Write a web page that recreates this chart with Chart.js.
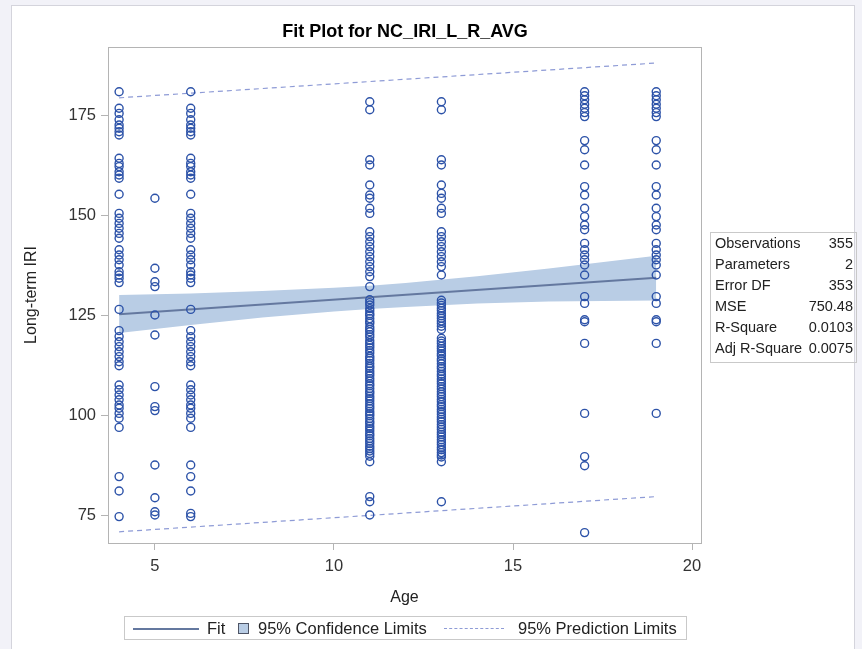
<!DOCTYPE html>
<html>
<head>
<meta charset="utf-8">
<script src="https://cdn.jsdelivr.net/npm/chart.js@4.4.1/dist/chart.umd.min.js"></script>
<style>
  html, body { margin: 0; padding: 0; background: #f2f2f8; }
  #page { position: relative; width: 862px; height: 649px; overflow: hidden;
          font-family: "Liberation Sans", Arial, sans-serif; color: #222; }
  #panel { position: absolute; left: 11px; top: 5px; width: 844px; height: 660px;
           background: #fff; border: 1px solid #d4d4dc; box-sizing: border-box; }
  #chart { position: absolute; left: 0; top: 0; }
  #title { position: absolute; left: 205px; width: 400px; top: 20px; text-align: center;
           font-weight: bold; font-size: 18px; line-height: 22px; color: #000; white-space: nowrap; }
  #stats { position: absolute; left: 710px; top: 232px; width: 147px; height: 131px;
           border: 1px solid #c9c9c9; box-sizing: border-box; font-size: 14.5px; color: #222; }
  #stats .row { position: absolute; left: 4px; right: 3px; height: 20px; line-height: 20px; white-space: nowrap; }
  #stats .v { position: absolute; right: 0; top: 0; }
  #legend { position: absolute; left: 124px; top: 616px; width: 563px; height: 24px;
            border: 1px solid #c9c9c9; box-sizing: border-box; font-size: 16.5px; color: #222; }
  #legend .item { position: absolute; top: 2px; line-height: 19px; white-space: nowrap; }
  #legend .fitline { position: absolute; left: 8px; top: 11px; width: 66px; height: 0;
                     border-top: 2px solid #64789f; }
  #legend .box { position: absolute; left: 113px; top: 6px; width: 11px; height: 11px;
                 background: #b9cde5; border: 1px solid #4e5566; box-sizing: border-box; }
  #legend .dash { position: absolute; left: 319px; top: 11px; width: 60px; height: 0;
                  border-top: 1px dashed #8e9bd6; }
</style>
</head>
<body>
<div id="page">
  <div id="panel"></div>
  <canvas id="chart" width="862" height="649"></canvas>
  <div id="title">Fit Plot for NC_IRI_L_R_AVG</div>

  <div id="stats">
    <div class="row" style="top:0px">Observations<span class="v">355</span></div>
    <div class="row" style="top:21px">Parameters<span class="v">2</span></div>
    <div class="row" style="top:42px">Error DF<span class="v">353</span></div>
    <div class="row" style="top:63px">MSE<span class="v">750.48</span></div>
    <div class="row" style="top:84px">R-Square<span class="v">0.0103</span></div>
    <div class="row" style="top:105px">Adj R-Square<span class="v">0.0075</span></div>
  </div>

  <div id="legend">
    <div class="fitline"></div>
    <div class="item" style="left:82px">Fit</div>
    <div class="box"></div>
    <div class="item" style="left:133px">95% Confidence Limits</div>
    <div class="dash"></div>
    <div class="item" style="left:393px">95% Prediction Limits</div>
  </div>
</div>

<script>
// Long-term IRI observations, grouped by pavement age (years)
const ages = [4, 5, 6, 11, 13, 17, 19];

const iriAge4 = [180.8, 176.7, 175.4, 173.8, 172.5, 171.7, 170.8, 170.0,
  164.2, 162.9, 162.1, 160.8, 160.0, 159.2, 155.2,
  150.4, 149.2, 147.9, 146.7, 145.4, 144.2,
  141.3, 140.0, 138.8, 137.5, 135.8, 135.0, 134.2, 133.1,
  126.4, 121.1, 119.6, 118.3, 117.1, 115.8, 114.6, 113.3, 112.3,
  107.5, 106.3, 105.0, 103.8, 102.5, 101.7, 100.4, 99.2, 96.9,
  84.6, 81.0, 74.6];

const iriAge5 = [154.2, 136.7, 133.3, 132.1, 125.0, 120.0, 107.1, 102.1, 101.1,
  87.5, 79.3, 75.8, 75.0];

const iriAge6 = [180.8, 176.7, 175.4, 173.8, 172.5, 171.7, 170.8, 170.0,
  164.2, 162.9, 162.1, 160.8, 160.0, 159.2, 155.2,
  150.4, 149.2, 147.9, 146.7, 145.4, 144.2,
  141.3, 140.0, 138.8, 137.5, 135.8, 135.0, 134.2, 133.1,
  126.4, 121.1, 119.6, 118.3, 117.1, 115.8, 114.6, 113.3, 112.3,
  107.5, 106.3, 105.0, 103.8, 102.5, 101.7, 100.4, 99.2, 96.9,
  87.5, 84.6, 81.0, 75.4, 74.6];

const iriAge11 = [178.3, 176.3, 163.8, 162.5, 157.5, 155.0, 154.2, 151.7, 150.4,
  145.8, 144.6, 143.3, 142.1, 140.8, 139.6, 138.3, 137.1, 135.8, 134.6, 132.1,
  128.8, 128.1, 127.5, 126.6, 126.0, 125.3, 124.9, 124.1, 123.4, 122.9, 122.0,
  121.4, 120.8, 120.1, 119.5, 118.6, 118.0, 117.4, 116.8, 116.1, 115.5, 114.7,
  114.2, 113.6, 112.9, 112.2, 111.7, 111.0, 110.4, 109.8, 109.1, 108.5, 107.8,
  107.3, 106.6, 105.9, 105.4, 104.7, 104.1, 103.5, 102.8, 102.2, 101.6, 100.9,
  100.3, 99.8, 99.1, 98.4, 97.9, 97.2, 96.6, 96.0, 95.3, 94.8, 94.1, 93.5,
  92.9, 92.2, 91.6, 91.0, 90.4, 89.7, 88.3, 79.6, 78.3, 75.0];

const iriAge13 = [178.3, 176.3, 163.8, 162.5, 157.5, 155.4, 154.2, 151.7, 150.4,
  145.8, 144.6, 143.3, 142.1, 140.8, 139.6, 138.3, 137.1, 135.0,
  128.7, 128.0, 127.4, 126.7, 126.1, 125.4, 124.8, 124.2, 123.5, 122.9, 122.2, 121.4,
  119.2, 118.5, 117.9, 117.2, 116.6, 116.0, 115.3, 114.8, 114.0, 113.5, 112.8,
  112.1, 111.6, 110.9, 110.2, 109.7, 109.0, 108.4, 107.8, 107.1, 106.5, 105.8,
  105.2, 104.6, 103.9, 103.3, 102.6, 102.1, 101.4, 100.8, 100.2, 99.5, 98.9,
  98.3, 97.6, 97.0, 96.4, 95.7, 95.1, 94.5, 93.8, 93.2, 92.6, 91.9, 91.3,
  90.6, 90.0, 89.5, 88.3, 78.3];

const iriAge17 = [180.8, 179.8, 178.8, 177.7, 176.7, 175.6, 174.6, 168.6, 166.3,
  162.5, 157.1, 155.0, 151.7, 149.6, 147.5, 146.3,
  142.9, 141.3, 140.0, 138.8, 137.5, 135.0, 129.6, 127.9, 123.8, 123.3,
  117.9, 100.4, 89.6, 87.3, 70.6];

const iriAge19 = [180.8, 179.8, 178.8, 177.7, 176.7, 175.6, 174.6, 168.6, 166.3,
  162.5, 157.1, 155.0, 151.7, 149.6, 147.5, 146.3,
  142.9, 141.3, 140.0, 138.8, 137.5, 135.0, 129.6, 127.9, 123.8, 123.3,
  117.9, 100.4];

const iriByAge = [iriAge4, iriAge5, iriAge6, iriAge11, iriAge13, iriAge17, iriAge19];

// Regression fit and limits
const fitAges = [4, 19];
const fitIri = [125.2, 134.3];

const clAges = [4, 6, 8, 10, 11, 12, 14, 16, 19];
const clLower = [120.5, 122.5, 124.4, 125.9, 126.5, 127.0, 127.9, 128.4, 128.6];
const clUpper = [130.0, 130.4, 131.0, 131.8, 132.3, 133.0, 134.7, 136.6, 139.8];

const plAges = [4, 19];
const plLower = [70.8, 79.6];
const plUpper = [179.3, 188.0];

// Axis ticks
const xTicks = [5, 10, 15, 20];
const yTicks = [75, 100, 125, 150, 175];

const pts = (xs, ys) => xs.map((x, i) => ({ x: x, y: ys[i] }));
const observations = [];
ages.forEach((a, i) => iriByAge[i].forEach(v => observations.push({ x: a, y: v })));

const FONT = '"Liberation Sans", Arial, sans-serif';
const TEXT = '#222';

// Draws the box around the plot area
const frame = {
  id: 'frame',
  afterDraw(chart) {
    const { ctx, chartArea: a } = chart;
    ctx.save();
    ctx.strokeStyle = '#b4b4b4';
    ctx.lineWidth = 1;
    ctx.strokeRect(Math.round(a.left) + 0.5, Math.round(a.top) + 0.5,
                   Math.round(a.right - a.left), Math.round(a.bottom - a.top));
    ctx.restore();
  }
};

new Chart(document.getElementById('chart'), {
  type: 'scatter',
  data: {
    datasets: [
      { label: 'CL lower', data: pts(clAges, clLower), showLine: true,
        borderWidth: 0, borderColor: 'rgba(0,0,0,0)', pointRadius: 0, fill: false, order: 6 },
      { label: '95% Confidence Limits', data: pts(clAges, clUpper), showLine: true,
        borderWidth: 0, borderColor: 'rgba(0,0,0,0)', pointRadius: 0,
        fill: '-1', backgroundColor: '#b9cde5', order: 5 },
      { label: 'Fit', data: pts(fitAges, fitIri), showLine: true,
        borderColor: '#64789f', borderWidth: 2, pointRadius: 0, order: 3 },
      { label: 'PL lower', data: pts(plAges, plLower), showLine: true,
        borderColor: '#8e9bd6', borderWidth: 1.2, borderDash: [5, 4], pointRadius: 0, order: 4 },
      { label: '95% Prediction Limits', data: pts(plAges, plUpper), showLine: true,
        borderColor: '#8e9bd6', borderWidth: 1.2, borderDash: [5, 4], pointRadius: 0, order: 4 },
      { label: 'NC_IRI_L_R_AVG', data: observations, showLine: false,
        pointStyle: 'circle', pointRadius: 4, pointBorderWidth: 1.4,
        borderColor: '#2c52a8', backgroundColor: 'rgba(0,0,0,0)',
        pointBackgroundColor: 'rgba(0,0,0,0)', pointBorderColor: '#2c52a8', order: 1 }
    ]
  },
  options: {
    responsive: false,
    animation: false,
    layout: { padding: { left: 0, right: 161, top: 47, bottom: 36 } },
    plugins: {
      legend: { display: false },
      tooltip: { enabled: false },
      title: { display: false }
    },
    scales: {
      x: {
        type: 'linear',
        min: 3.69, max: 20.25,
        afterBuildTicks: s => { s.ticks = xTicks.map(v => ({ value: v })); },
        afterFit: s => { s.height = 70; },
        grid: { drawOnChartArea: false, drawTicks: true, tickLength: 7, color: '#b4b4b4' },
        border: { display: false },
        ticks: { color: '#333', padding: 7, font: { family: FONT, size: 16.5 }, maxRotation: 0 },
        title: { display: true, text: 'Age', color: TEXT,
                 font: { family: FONT, size: 16, lineHeight: 1.2 }, padding: { top: 0, bottom: 6 } }
      },
      y: {
        type: 'linear',
        min: 68, max: 192,
        afterBuildTicks: s => { s.ticks = yTicks.map(v => ({ value: v })); },
        afterFit: s => { s.width = 108; },
        grid: { drawOnChartArea: false, drawTicks: true, tickLength: 7, color: '#b4b4b4' },
        border: { display: false },
        ticks: { color: '#333', padding: 5, font: { family: FONT, size: 16.5 } },
        title: { display: true, text: 'Long-term IRI', color: TEXT,
                 font: { family: FONT, size: 16, lineHeight: 1.2 }, padding: { top: 22, bottom: 0 } }
      }
    }
  },
  plugins: [frame]
});
</script>
</body>
</html>
